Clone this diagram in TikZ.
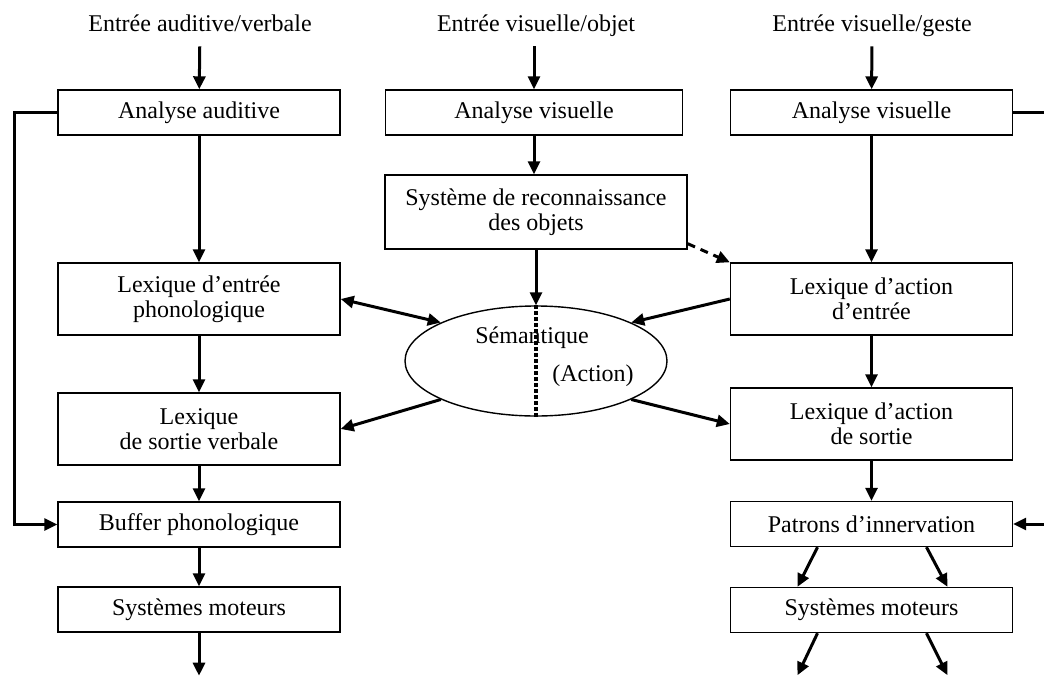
\documentclass[tikz,border=0pt]{standalone}
\usepackage{fontspec}
\setmainfont{Liberation Serif}
\usetikzlibrary{arrows.meta,shapes.geometric}

\begin{document}
\begin{tikzpicture}[x=0.5pt,y=-0.5pt,
	boite/.style={draw, line width=0.7pt, minimum width=141pt, minimum height=22.5pt, inner sep=0pt, align=center, font=\fontsize{12}{12.5}\selectfont},
	entree/.style={inner sep=2pt, text height=8.5pt, text depth=2.5pt, font=\fontsize{12}{12.5}\selectfont},
	fleche/.style={line width=1.5pt, -{Triangle[length=6.5pt,width=6pt]}},
	trait/.style={line width=1.5pt}]

	\useasboundingbox (0,0) rectangle (1044,675);

	% Entries
	\node[entree] (in1) at (200,25) {Entrée auditive/verbale};
	\node[entree] (in2) at (536,25) {Entrée visuelle/objet};
	\node[entree] (in3) at (872,25) {Entrée visuelle/geste};

	% Left column
	\node[boite] (aa) at (199,112.5) {Analyse auditive};
	\node[boite, minimum height=36pt] (lep) at (199,299) {Lexique d'entrée\\phonologique};
	\node[boite, minimum height=36pt] (lsv) at (199,429) {Lexique\\de sortie verbale};
	\node[boite] (bp) at (199,524.5) {Buffer phonologique};
	\node[boite] (sm1) at (199,609.5) {Systèmes moteurs};

	% Middle column
	\node[boite, minimum width=148.5pt] (av1) at (534,112.5) {Analyse visuelle};
	\node[boite, minimum width=151pt, minimum height=37pt] (sro) at (536,212) {Système de reconnaissance\\des objets};
	\node[draw, ellipse, line width=0.7pt, minimum width=131pt, minimum height=55pt, inner sep=0pt] (sem) at (536,361) {};
	\node[entree] (semt) at (532,337) {Sémantique};
	\node[entree] (act) at (593,375) {(Action)};

	% Right column
	\node[boite] (av2) at (871.5,112.5) {Analyse visuelle};
	\node[boite, minimum height=36pt] (lae) at (871.5,299) {Lexique d'action\\d'entrée};
	\node[boite, minimum height=36pt] (las) at (871.5,424) {Lexique d'action\\de sortie};
	\node[boite] (pi) at (871.5,524) {Patrons d'innervation};
	\node[boite] (sm2) at (871.5,610) {Systèmes moteurs};

	% Vertical arrows
	\draw[fleche, shorten <=3pt] (in1) -- (aa);
	\draw[fleche] (aa) -- (lep);
	\draw[fleche] (lep) -- (lsv);
	\draw[fleche] (lsv) -- (bp);
	\draw[fleche] (bp) -- (sm1);
	\draw[fleche] (sm1.south) -- ++(0,43);

	\draw[fleche, shorten <=3pt] (in2.south -| av1.north) -- (av1.north);
	\draw[fleche] (av1.south) -- (av1.south |- sro.north);
	\draw[fleche] (sro.south) -- (sem.north);
	\draw[line width=2pt, dash pattern=on 1.6pt off 1.4pt] (sem.north) -- (sem.south);

	\draw[fleche, shorten <=3pt] (in3) -- (av2);
	\draw[fleche] (av2) -- (lae);
	\draw[fleche] (lae) -- (las);
	\draw[fleche] (las) -- (pi);
	\draw[fleche] ([xshift=-27pt]pi.south) -- ([xshift=-37pt]sm2.north);
	\draw[fleche] ([xshift=27.5pt]pi.south) -- ([xshift=38pt]sm2.north);
	\draw[fleche] ([xshift=-27pt]sm2.south) -- ++(-20,42);
	\draw[fleche] ([xshift=27.5pt]sm2.south) -- ++(21,42);

	% Semantic links
	\draw[trait, {Triangle[length=6.5pt,width=6pt]}-{Triangle[length=6.5pt,width=6pt]}] (lep.east) -- (sem.158);
	\draw[fleche] (lae.west) -- (sem.22);
	\draw[fleche] (sem.202) -- (lsv.east);
	\draw[fleche] (sem.338) -- (las.west);
	\draw[fleche, dash pattern=on 4pt off 3pt] ([yshift=3pt]sro.south east) -- (lae.north west);

	% Feedback loops
	\draw[fleche] (aa.west) -- ++(-43,0) |- (bp.west);
	\draw[fleche] (av2.east) -- ++(60,0) |- (pi.east);

\end{tikzpicture}
\end{document}
